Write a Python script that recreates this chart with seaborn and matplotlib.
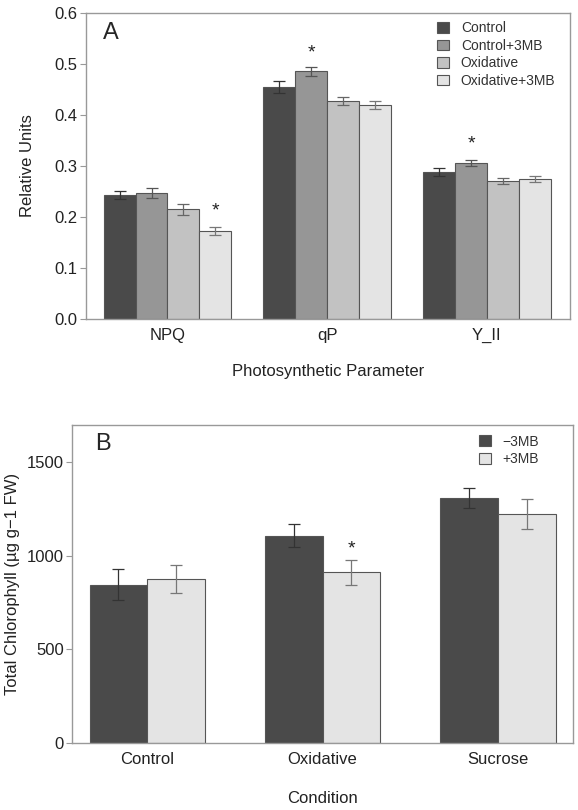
import numpy as np
import pandas as pd
import matplotlib
matplotlib.use("Agg")
import matplotlib.pyplot as plt
import seaborn as sns

sns.set_style("white")
plt.rcParams["font.family"] = ["Liberation Sans", "DejaVu Sans"]

# panel A data
params = ["NPQ", "qP", "Y_II"]
treatments = ["Control", "Control+3MB", "Oxidative", "Oxidative+3MB"]
npq = [0.243, 0.247, 0.215, 0.173]
qp = [0.455, 0.485, 0.427, 0.419]
y_ii = [0.288, 0.305, 0.271, 0.275]
npq_err = [0.008, 0.010, 0.011, 0.008]
qp_err = [0.012, 0.009, 0.008, 0.008]
y_ii_err = [0.007, 0.006, 0.006, 0.006]
stars_a = [("NPQ", "Oxidative+3MB", 0.212), ("qP", "Control+3MB", 0.522), ("Y_II", "Control+3MB", 0.343)]

# panel B data
conditions = ["Control", "Oxidative", "Sucrose"]
mb_groups = ["\u22123MB", "+3MB"]
chl_minus = [847, 1109, 1310]
chl_plus = [877, 912, 1223]
chl_minus_err = [83, 62, 51]
chl_plus_err = [74, 69, 81]
stars_b = [("Oxidative", "+3MB", 1035)]

colors_a = ["#4a4a4a", "#969696", "#c2c2c2", "#e4e4e4"]
colors_b = ["#4a4a4a", "#e4e4e4"]
err_cols_a = ["#333333", "#555555", "#666666", "#777777"]
err_cols_b = ["#333333", "#777777"]

df_a = pd.DataFrame({
    "param": np.repeat(params, len(treatments)),
    "treat": treatments * len(params),
    "value": npq + qp + y_ii,
    "err": npq_err + qp_err + y_ii_err,
})
df_b = pd.DataFrame({
    "cond": conditions * 2,
    "mb": np.repeat(mb_groups, len(conditions)),
    "value": chl_minus + chl_plus,
    "err": chl_minus_err + chl_plus_err,
})

fig = plt.figure(figsize=(5.78, 8.10), dpi=100)
ax1 = fig.add_axes([0.1488, 0.6062, 0.8374, 0.3781])
ax2 = fig.add_axes([0.1246, 0.0827, 0.8668, 0.3926])


def draw(ax, df, x, hue, order, hue_order, colors, errcols, width, stars, leg_xy):
    sns.barplot(data=df, x=x, y="value", hue=hue, order=order, hue_order=hue_order,
                palette=colors, width=width, errorbar=None, saturation=1,
                edgecolor="#555555", linewidth=0.8, ax=ax)
    for h, cont, ec in zip(hue_order, ax.containers, errcols):
        sub = df[df[hue] == h].set_index(x).loc[order]
        xs = [b.get_x() + b.get_width() / 2 for b in cont]
        ax.errorbar(xs, sub["value"], yerr=sub["err"], fmt="none", ecolor=ec,
                    elinewidth=0.9, capsize=4.5, capthick=0.9, zorder=5)
    for g, h, yv in stars:
        cont = ax.containers[hue_order.index(h)]
        b = cont[order.index(g)]
        ax.text(b.get_x() + b.get_width() / 2, yv, "*", ha="center", va="center",
                fontsize=14, color="#222222")
    for s in ax.spines.values():
        s.set_color("#999999")
        s.set_linewidth(1.0)
    ax.tick_params(axis="y", left=True, length=4, color="#999999", labelsize=12,
                   labelcolor="#222222", pad=2)
    ax.tick_params(axis="x", bottom=False, labelsize=12, labelcolor="#222222", pad=3)
    leg = ax.legend(loc="upper left", frameon=False, fontsize=10, handlelength=0.86,
                    handleheight=0.8, handletextpad=0.86, labelspacing=0.25,
                    borderpad=0, borderaxespad=0, bbox_to_anchor=leg_xy)
    for t in leg.get_texts():
        t.set_color("#333333")


draw(ax1, df_a, "param", "treat", params, treatments, colors_a, err_cols_a, 0.8,
     stars_a, (0.725, 0.972))
ax1.set_xlim(-0.51, 2.52)
ax1.set_ylim(0, 0.6)
ax1.set_yticks(np.arange(0, 0.61, 0.1))
ax1.set_yticklabels([f"{v:.1f}" for v in np.arange(0, 0.61, 0.1)])
ax1.set_ylabel("Relative Units", fontsize=12, color="#222222", va="center")
ax1.set_xlabel("Photosynthetic Parameter", fontsize=12, color="#222222", va="center")
ax1.yaxis.set_label_coords(-0.12, 0.5)
ax1.xaxis.set_label_coords(0.5, -0.173)
ax1.text(0.035, 0.934, "A", transform=ax1.transAxes, fontsize=17, va="center", ha="left")

draw(ax2, df_b, "cond", "mb", conditions, mb_groups, colors_b, err_cols_b, 0.66,
     stars_b, (0.812, 0.97))
ax2.set_xlim(-0.43, 2.43)
ax2.set_ylim(0, 1700)
ax2.set_yticks([0, 500, 1000, 1500])
ax2.set_ylabel("Total Chlorophyll (\u00b5g g\u22121 FW)", fontsize=12, color="#222222", va="center")
ax2.set_xlabel("Condition", fontsize=12, color="#222222", va="center")
ax2.yaxis.set_label_coords(-0.118, 0.5)
ax2.xaxis.set_label_coords(0.5, -0.173)
ax2.text(0.046, 0.94, "B", transform=ax2.transAxes, fontsize=17, va="center", ha="left")

fig.savefig("out.png", dpi=100)
